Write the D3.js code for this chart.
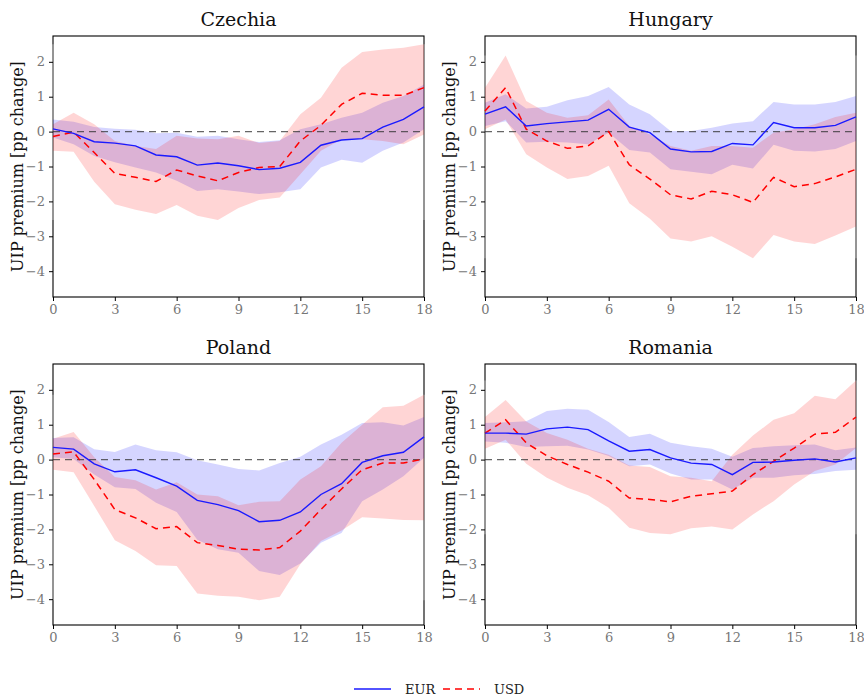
<!DOCTYPE html>
<html>
<head>
<meta charset="utf-8">
<script src="https://cdn.jsdelivr.net/npm/d3@7"></script>
<style>
  body { margin: 0; background: #fff; }
</style>
</head>
<body>
<div class="root"></div>
<script>
// horizons (months)
var horizons = d3.range(0, 19);
var xTicks = [0, 3, 6, 9, 12, 15, 18];
var yTicks = [-4, -3, -2, -1, 0, 1, 2];

// Czechia
var czEur   = [0.08, -0.05, -0.29, -0.33, -0.41, -0.67, -0.72, -0.96, -0.90, -0.98, -1.09, -1.05, -0.88, -0.39, -0.24, -0.20, 0.13, 0.35, 0.71];
var czEurHi = [0.35, 0.28, 0.13, 0.08, 0.05, -0.05, -0.03, -0.15, -0.12, -0.22, -0.30, -0.25, 0.07, 0.21, 0.40, 0.54, 0.83, 1.02, 1.35];
var czEurLo = [-0.17, -0.36, -0.70, -0.88, -1.03, -1.17, -1.41, -1.70, -1.65, -1.72, -1.79, -1.74, -1.65, -1.03, -0.81, -0.89, -0.55, -0.31, 0.07];
var czUsd   = [-0.14, -0.01, -0.60, -1.20, -1.31, -1.43, -1.10, -1.27, -1.41, -1.17, -1.03, -1.00, -0.27, 0.18, 0.78, 1.10, 1.04, 1.04, 1.26];
var czUsdHi = [0.21, 0.54, 0.21, -0.27, -0.41, -0.50, -0.12, -0.20, -0.22, -0.12, -0.33, -0.27, 0.50, 0.97, 1.83, 2.28, 2.35, 2.40, 2.50];
var czUsdLo = [-0.55, -0.58, -1.44, -2.08, -2.24, -2.36, -2.10, -2.41, -2.53, -2.19, -1.96, -1.89, -1.22, -0.55, -0.22, -0.22, -0.27, -0.36, -0.08];

// Hungary
var huEur   = [0.50, 0.71, 0.16, 0.23, 0.28, 0.33, 0.64, 0.13, -0.03, -0.50, -0.58, -0.57, -0.34, -0.38, 0.26, 0.11, 0.11, 0.18, 0.42];
var huEurHi = [0.83, 1.07, 0.66, 0.71, 0.90, 1.02, 1.28, 0.78, 0.50, 0.02, 0.02, 0.11, 0.23, 0.30, 0.85, 0.78, 0.78, 0.85, 1.02];
var huEurLo = [0.16, 0.30, -0.31, -0.29, -0.31, -0.36, -0.03, -0.53, -0.60, -1.08, -1.15, -1.22, -0.95, -1.06, -0.38, -0.55, -0.57, -0.50, -0.27];
var huUsd   = [0.59, 1.26, 0.07, -0.27, -0.48, -0.41, 0.00, -0.95, -1.36, -1.81, -1.93, -1.71, -1.81, -2.03, -1.31, -1.58, -1.49, -1.30, -1.08];
var huUsdHi = [1.26, 2.18, 0.88, 0.54, 0.40, 0.47, 0.92, 0.16, -0.08, -0.41, -0.55, -0.41, -0.41, -0.46, -0.03, 0.07, 0.21, 0.42, 0.54];
var huUsdLo = [0.07, 0.35, -0.65, -1.03, -1.36, -1.27, -0.98, -2.05, -2.50, -3.06, -3.15, -3.00, -3.30, -3.63, -2.96, -3.15, -3.22, -2.98, -2.72];

// Poland
var plEur   = [0.35, 0.30, -0.12, -0.35, -0.29, -0.52, -0.76, -1.17, -1.29, -1.46, -1.78, -1.74, -1.50, -1.00, -0.69, -0.08, 0.11, 0.21, 0.65];
var plEurHi = [0.62, 0.64, 0.30, 0.22, 0.43, 0.27, 0.21, -0.02, -0.14, -0.27, -0.31, -0.10, 0.08, 0.43, 0.71, 1.05, 1.07, 0.98, 1.22];
var plEurLo = [0.07, 0.02, -0.43, -0.79, -0.84, -1.24, -1.50, -2.30, -2.57, -2.67, -3.19, -3.31, -2.98, -2.38, -2.10, -1.19, -0.86, -0.48, 0.05];
var plUsd   = [0.16, 0.22, -0.57, -1.43, -1.67, -1.98, -1.92, -2.38, -2.46, -2.57, -2.59, -2.52, -2.05, -1.43, -0.84, -0.29, -0.10, -0.10, 0.02];
var plUsdHi = [0.60, 0.79, 0.07, -0.50, -0.59, -0.86, -0.65, -1.00, -1.05, -1.31, -1.21, -1.19, -0.57, -0.19, 0.48, 1.00, 1.50, 1.54, 1.86];
var plUsdLo = [-0.29, -0.36, -1.33, -2.31, -2.62, -3.03, -3.05, -3.84, -3.90, -3.93, -4.03, -3.93, -3.00, -2.33, -2.03, -1.65, -1.69, -1.73, -1.74];

// Romania
var roEur   = [0.76, 0.76, 0.73, 0.88, 0.93, 0.86, 0.54, 0.24, 0.29, 0.05, -0.10, -0.14, -0.43, -0.08, -0.07, -0.02, 0.02, -0.07, 0.05];
var roEurHi = [1.05, 1.07, 1.10, 1.39, 1.46, 1.43, 1.08, 0.65, 0.74, 0.48, 0.38, 0.31, 0.08, 0.33, 0.38, 0.41, 0.43, 0.27, 0.35];
var roEurLo = [0.52, 0.48, 0.36, 0.38, 0.40, 0.29, 0.10, -0.19, -0.14, -0.40, -0.57, -0.57, -0.86, -0.52, -0.52, -0.45, -0.41, -0.33, -0.29];
var roUsd   = [0.76, 1.14, 0.48, 0.11, -0.14, -0.36, -0.62, -1.10, -1.14, -1.21, -1.05, -0.98, -0.90, -0.43, -0.05, 0.33, 0.73, 0.78, 1.22];
var roUsdHi = [1.22, 1.71, 1.09, 0.76, 0.57, 0.31, 0.14, -0.17, -0.21, -0.48, -0.52, -0.62, 0.14, 0.69, 1.14, 1.33, 1.83, 1.73, 2.27];
var roUsdLo = [0.31, 0.57, -0.12, -0.52, -0.81, -1.02, -1.38, -1.95, -2.10, -2.14, -1.97, -1.92, -2.00, -1.57, -1.19, -0.71, -0.33, -0.14, 0.33];

var countries = ['Czechia', 'Hungary', 'Poland', 'Romania'];
var seriesNames = ['EUR', 'USD'];

var FONT = '"DejaVu Serif", serif';

function runChart() {
  var w = 864, h = 696;

  var panels = [
    {name: countries[0], eur: czEur, eurHi: czEurHi, eurLo: czEurLo, usd: czUsd, usdHi: czUsdHi, usdLo: czUsdLo, left: 53,  top: 36},
    {name: countries[1], eur: huEur, eurHi: huEurHi, eurLo: huEurLo, usd: huUsd, usdHi: huUsdHi, usdLo: huUsdLo, left: 485, top: 36},
    {name: countries[2], eur: plEur, eurHi: plEurHi, eurLo: plEurLo, usd: plUsd, usdHi: plUsdHi, usdLo: plUsdLo, left: 53,  top: 364},
    {name: countries[3], eur: roEur, eurHi: roEurHi, eurLo: roEurLo, usd: roUsd, usdHi: roUsdHi, usdLo: roUsdLo, left: 485, top: 364}
  ];
  var pw = 371, ph = 261;

  var svg = d3.select('.root').append('svg')
    .attr('width', w)
    .attr('height', h)
    .attr('font-family', FONT);

  var x = d3.scaleLinear().domain([0, 18]).range([0, pw]);
  var y = d3.scaleLinear().domain([-4.74, 2.74]).range([ph, 0]);

  panels.forEach(function(p) {
    var g = svg.append('g')
      .attr('transform', 'translate(' + p.left + ',' + p.top + ')');

    function band(lo, hi) {
      return d3.area()
        .x(function(d, i) { return x(horizons[i]); })
        .y0(function(d, i) { return y(lo[i]); })
        .y1(function(d, i) { return y(hi[i]); })(lo);
    }
    var line = d3.line()
      .x(function(d, i) { return x(horizons[i]); })
      .y(function(d) { return y(d); });

    // frame
    g.append('rect')
      .attr('width', pw)
      .attr('height', ph)
      .attr('fill', 'none')
      .attr('stroke', '#000')
      .attr('stroke-width', 1.1);

    // grey marks over the side spines, spanning the data range
    var all = p.eurHi.concat(p.eurLo, p.usdHi, p.usdLo);
    var ymax = d3.max(all), ymin = d3.min(all);
    [0, 18].forEach(function(xv) {
      g.append('line')
        .attr('x1', x(xv)).attr('x2', x(xv))
        .attr('y1', y(ymax)).attr('y2', y(ymin))
        .attr('stroke', '#a8a8a8')
        .attr('stroke-width', 1.3);
    });

    g.append('path')
      .attr('d', band(p.eurLo, p.eurHi))
      .attr('fill', 'rgb(0,0,255)')
      .attr('fill-opacity', 0.165);
    g.append('path')
      .attr('d', band(p.usdLo, p.usdHi))
      .attr('fill', 'rgb(255,0,0)')
      .attr('fill-opacity', 0.165);

    // zero line
    g.append('line')
      .attr('x1', 0).attr('x2', pw)
      .attr('y1', y(0)).attr('y2', y(0))
      .attr('stroke', '#333')
      .attr('stroke-opacity', 0.75)
      .attr('stroke-width', 1.3)
      .attr('stroke-dasharray', '7,5');

    g.append('path')
      .attr('d', line(p.usd))
      .attr('fill', 'none')
      .attr('stroke', '#ff0000')
      .attr('stroke-width', 1.5)
      .attr('stroke-dasharray', '7,5');
    g.append('path')
      .attr('d', line(p.eur))
      .attr('fill', 'none')
      .attr('stroke', '#1a1aff')
      .attr('stroke-width', 1.4);

    // axes
    var ya = g.append('g')
      .call(d3.axisLeft(y).tickValues(yTicks).tickSize(4).tickPadding(4)
        .tickFormat(function(d) { return d3.format('d')(d); }));
    ya.select('.domain').remove();
    ya.attr('font-family', FONT).attr('font-size', 13);
    ya.selectAll('text').attr('fill', '#777');

    var xa = g.append('g')
      .attr('transform', 'translate(0,' + ph + ')')
      .call(d3.axisBottom(x).tickValues(xTicks).tickSize(4).tickPadding(4));
    xa.select('.domain').remove();
    xa.attr('font-family', FONT).attr('font-size', 13);
    xa.selectAll('text').attr('fill', '#777');

    // title
    g.append('text')
      .attr('x', pw / 2)
      .attr('y', -10)
      .attr('text-anchor', 'middle')
      .attr('font-size', 19)
      .attr('fill', '#111')
      .text(p.name);

    // y label
    g.append('text')
      .attr('transform', 'translate(' + (-30) + ',' + (ph / 2) + ') rotate(-90)')
      .attr('text-anchor', 'middle')
      .attr('font-size', 16)
      .attr('fill', '#111')
      .text('UIP premium [pp change]');
  });

  // legend
  var lg = svg.append('g').attr('transform', 'translate(0,689)');
  lg.append('line')
    .attr('x1', 354).attr('x2', 391)
    .attr('stroke', '#1a1aff').attr('stroke-width', 1.5);
  lg.append('text')
    .attr('x', 405).attr('y', 5)
    .attr('font-size', 13).attr('fill', '#222')
    .text(seriesNames[0]);
  lg.append('line')
    .attr('x1', 443).attr('x2', 480)
    .attr('stroke', '#ff0000').attr('stroke-width', 1.5)
    .attr('stroke-dasharray', '7,5');
  lg.append('text')
    .attr('x', 494).attr('y', 5)
    .attr('font-size', 13).attr('fill', '#222')
    .text(seriesNames[1]);
}

window.onload = function() {
  runChart();
};
</script>
</body>
</html>
